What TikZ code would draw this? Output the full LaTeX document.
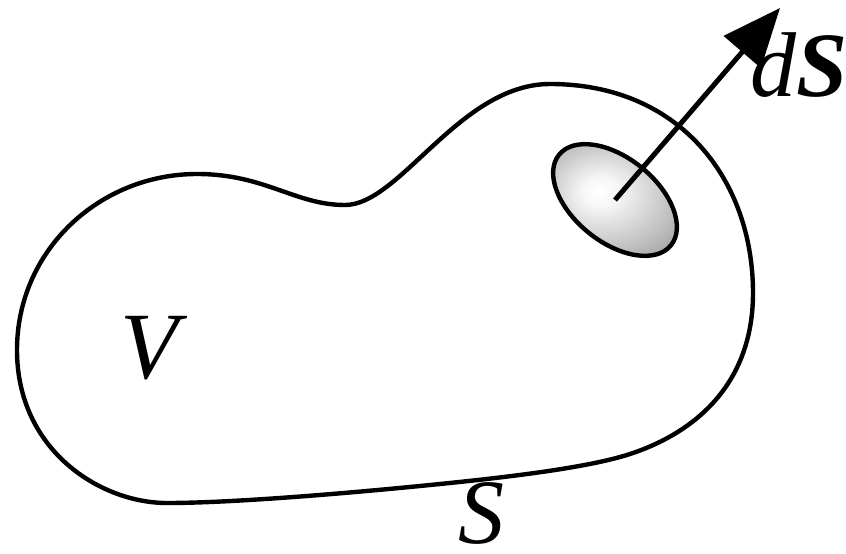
\documentclass[tikz,border=0pt]{standalone}
\usepackage{fontspec}
\setmainfont{Liberation Serif}
\usetikzlibrary{arrows.meta}
\pgfdeclareradialshading{patchshade}{\pgfpoint{-6bp}{4bp}}{color(0bp)=(white); color(6bp)=(white!97!black); color(40bp)=(black!45); color(50bp)=(black!55)}
\tikzset{
  outline/.style={line width=4.4pt, line join=round},
  patch/.style={line width=4.4pt, shading=patchshade},
  normal/.style={line width=5pt, -{Triangle[length=58pt,width=48pt]}},
  lbl/.style={inner sep=0pt, font=\fontsize{95}{100}\selectfont\itshape},
}
\begin{document}
\begin{tikzpicture}[x=1pt,y=-1pt]
\useasboundingbox (0,0) rectangle (846,554);
% surface
\draw[outline] (17,350)
  .. controls (17,250) and (100,174) .. (197,174)
  .. controls (265,174) and (295,205) .. (345,205)
  .. controls (400,205) and (460,84) .. (550,84)
  .. controls (680,84) and (753,180) .. (753,293)
  .. controls (753,380) and (700,430) .. (633,453)
  .. controls (590,468) and (500,478) .. (430,485)
  .. controls (340,494) and (230,503) .. (167,503)
  .. controls (100,503) and (17,450) .. cycle;
% surface element
\coordinate (c) at (615,200);
\draw[patch, shift={(c)}, rotate=-39] (0,0) ellipse [x radius=72, y radius=42];
\coordinate (tip) at (780,8);
\draw[normal] (c) -- (tip);
\node[lbl, anchor=base] (V) at (150,378) {V};
\node[lbl, font=\fontsize{92}{96}\selectfont\itshape, anchor=base] (S) at (481,543) {S};
\node[lbl, font=\fontsize{92}{96}\selectfont\itshape, anchor=base west] (dS) at (750,96) {d\textbf{S}};
\end{tikzpicture}
\end{document}
